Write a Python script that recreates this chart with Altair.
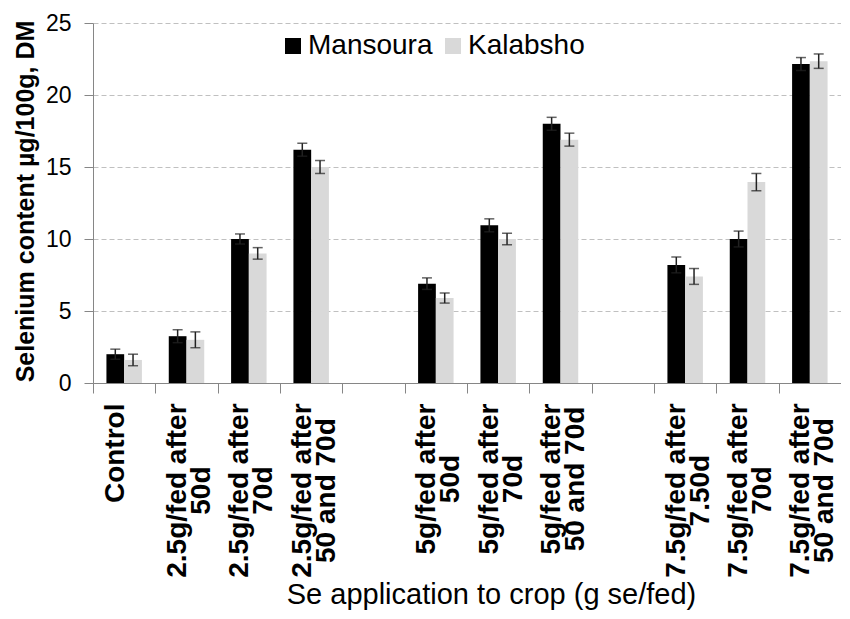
import json
import altair as alt
import pandas as pd

# ---------------- data ----------------
line1 = ["Control", "2.5g/fed after", "2.5g/fed after", "2.5g/fed after",
         "5g/fed after", "5g/fed after", "5g/fed after",
         "7.5g/fed after", "7.5g/fed after", "7.5g/fed after"]
line2 = ["", "50d", "70d", "50 and 70d",
         "50d", "70d", "50 and 70d",
         "7.50d", "70d", "50 and 70d"]
mansoura = [2.0, 3.25, 10.0, 16.2, 6.9, 10.95, 18.0, 8.2, 10.0, 22.15]
kalabsho = [1.6, 3.0, 9.0, 15.0, 5.9, 10.0, 16.9, 7.4, 13.95, 22.35]
mansoura_err = [0.35, 0.45, 0.35, 0.45, 0.4, 0.45, 0.45, 0.55, 0.55, 0.45]
kalabsho_err = [0.4, 0.55, 0.4, 0.45, 0.35, 0.4, 0.45, 0.55, 0.6, 0.5]
series = ["Mansoura", "Kalabsho"]
gaps_after = [3, 6]   # empty slots after these category indices
y_ticks = [0, 5, 10, 15, 20, 25]

# ---------------- label layout helpers (Arial/Liberation Bold advance widths) ----------------
W = {"0": .556, "1": .556, "2": .556, "5": .556, "7": .556, ".": .278, "g": .611,
     "/": .278, "f": .333, "e": .556, "d": .611, " ": .278, "a": .556, "t": .333,
     "r": .389, "n": .611, "C": .722, "o": .611, "l": .278}
def tw(s):
    return sum(W.get(ch, .556) for ch in s)

LABEL_SIZE = 28
slots, labels, half = [], [], []
for i, (a, b) in enumerate(zip(line1, line2)):
    slots.append(f"c{i}")
    labels.append([a, b] if b else [a])
    half.append(round(max(tw(a), tw(b)) * LABEL_SIZE / 2, 1))
    if i in gaps_after:
        slots.append(f"gap{i}")
        labels.append([""])
        half.append(0)

label_expr = "{}[indexof({}, datum.value)]".format(json.dumps(labels), json.dumps(slots))
pad_expr = "10 + {}[indexof({}, datum.value)]".format(json.dumps(half), json.dumps(slots))

rows = []
for i in range(len(line1)):
    for s, vals, errs in ((series[0], mansoura, mansoura_err), (series[1], kalabsho, kalabsho_err)):
        rows.append({"slot": f"c{i}", "series": s, "value": vals[i],
                     "lo": vals[i] - errs[i], "hi": vals[i] + errs[i]})
df = pd.DataFrame(rows)

FONT = "Liberation Sans, Arial, sans-serif"
YTITLE = "Selenium content µg/100g, DM"
XTITLE = "Se application to crop (g se/fed)"

x_enc = alt.X("slot:N",
              scale=alt.Scale(domain=slots, paddingInner=0, paddingOuter=0),
              title=XTITLE,
              axis=alt.Axis(labelExpr=label_expr, labelAngle=-90, labelAlign="center",
                            labelBaseline="middle", labelFont=FONT, labelFontWeight="bold",
                            labelFontSize=LABEL_SIZE, labelLineHeight=24,
                            labelPadding=alt.ExprRef(expr=pad_expr), labelOffset=-9,
                            labelLimit=600, labelOverlap=False, labelColor="#000",
                            tickBand="extent", tickSize=10, tickColor="#868686",
                            domainColor="#868686", grid=False,
                            titleFont=FONT, titleFontSize=29, titleFontWeight="normal",
                            titleColor="#000", titleX=398, titleY=220,
                            titleBaseline="alphabetic", titleAnchor="middle"))
xo_enc = alt.XOffset("series:N",
                     scale=alt.Scale(domain=series, paddingOuter=0.757, paddingInner=0))
y_axis = alt.Axis(values=y_ticks, labelFont=FONT, labelFontSize=23,
                  labelColor="#000", labelPadding=13, tickSize=9, tickColor="#868686",
                  domainColor="#868686", gridColor="#c0c0c0", gridDash=[5, 3],
                  titleFont=FONT, titleFontSize=25, titleFontWeight="bold",
                  titleColor="#000", titleAngle=-90, titleX=-60, titleY=178,
                  titleAlign="center", titleBaseline="alphabetic")
y_scale = alt.Scale(domain=[0, 25])

bars = alt.Chart(df).mark_bar().encode(
    x=x_enc, xOffset=xo_enc,
    y=alt.Y("value:Q", scale=y_scale, axis=y_axis, title=YTITLE),
    color=alt.Color("series:N",
                    scale=alt.Scale(domain=series, range=["#000000", "#d9d9d9"]),
                    legend=alt.Legend(orient="none", legendX=186, legendY=9,
                                      direction="horizontal", title=None,
                                      symbolType="square", symbolSize=256,
                                      symbolStrokeWidth=0, labelFont=FONT,
                                      labelFontSize=28, labelColor="#000",
                                      labelOffset=1, columnPadding=6)),
)
err = alt.Chart(df).mark_rule(color="#222", strokeWidth=1.5).encode(
    x=x_enc, xOffset=xo_enc,
    y=alt.Y("lo:Q", scale=y_scale, axis=y_axis, title=YTITLE), y2="hi:Q")
cap_hi = alt.Chart(df).mark_tick(color="#222", thickness=1.5, size=10).encode(
    x=x_enc, xOffset=xo_enc, y=alt.Y("hi:Q", scale=y_scale, axis=y_axis, title=YTITLE))
cap_lo = alt.Chart(df).mark_tick(color="#222", thickness=1.5, size=10).encode(
    x=x_enc, xOffset=xo_enc, y=alt.Y("lo:Q", scale=y_scale, axis=y_axis, title=YTITLE))

chart = alt.layer(bars, err, cap_hi, cap_lo).properties(
    width=748, height=360,
    autosize=alt.AutoSizeParams(type="none"),
    padding={"left": 85, "top": 15, "right": 0, "bottom": 228},
).configure_view(strokeWidth=0)

chart.save("out.html", embed_options={"renderer": "svg", "actions": False})
